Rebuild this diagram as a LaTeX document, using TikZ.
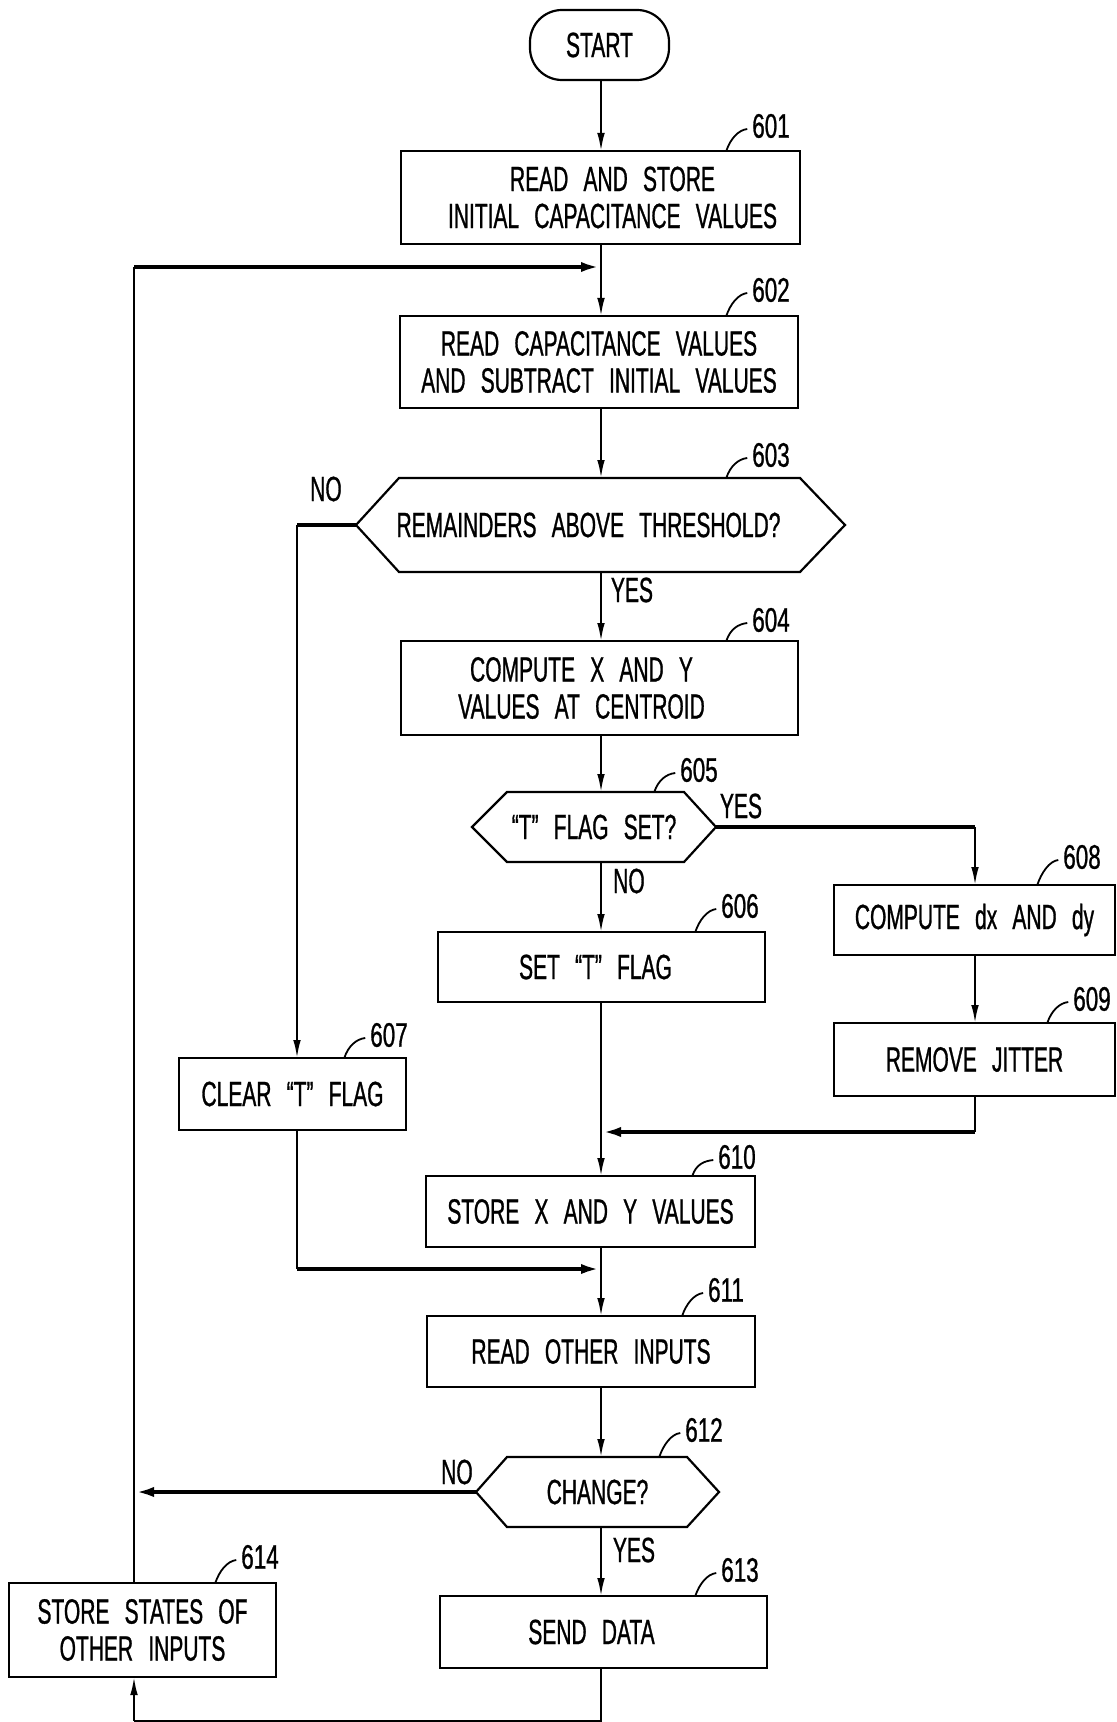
\documentclass[tikz,border=0pt]{standalone}
\usepackage{fontspec}
\usetikzlibrary{arrows.meta,calc}
\newfontfamily\pfont[FakeStretch=0.6,WordSpace=2.6,FakeBold=0.8]{Liberation Sans}
\newfontfamily\nfont[FakeStretch=0.66,FakeBold=0.8]{Liberation Sans}
\newcommand\hexpath[3]{\draw[boxline] (#1.west) -- ($(#1.north west)+(#2,0)$) -- ($(#1.north east)+(-#3,0)$) -- (#1.east) -- ($(#1.south east)+(-#3,0)$) -- ($(#1.south west)+(#2,0)$) -- cycle;}
\newcommand\refnum[4]{% node name, box name, position, number
  \node[numtxt] (#1) at #3 {#4};
  \draw[leaderline] ($(#1.west |- #2.north)+(-26,0)$) .. controls +(4,-12) and +(-9,1) .. ($(#1.west)+(-5,3)$);}
\begin{document}
\begin{tikzpicture}[x=0.5pt,y=-0.5pt,
  every node/.style={inner sep=0pt, outer sep=0pt},
  txt/.style={font={\pfont\fontsize{17.5}{18.5}\selectfont}, align=center},
  numtxt/.style={font={\nfont\fontsize{17}{17}\selectfont}},
  boxline/.style={line width=1.1pt},
  sz/.style 2 args={minimum width=#1*0.5pt, minimum height=#2*0.5pt},
  box/.style 2 args={draw, line width=1.1pt, sz={#1}{#2}, txt},
  hexnode/.style 2 args={sz={#1}{#2}, txt},
  inside/.style 2 args={label={[txt,xshift=#1]center:{#2}}},
  flow/.style={line width=1pt},
  heavy/.style={line width=2.2pt},
  arr/.style={-{Latex[length=9pt,width=3.8pt]}},
  harr/.style={-{Latex[length=10pt,width=5pt]}},
  leaderline/.style={line width=0.9pt}]
\fill[white] (0,0) rectangle (1117,1722);
\useasboundingbox (0,0) rectangle (1117,1722);

% guide coordinates
\coordinate (sp) at (601,0);
\coordinate (lp) at (134,267);
\coordinate (nx) at (297,0);
\coordinate (rx) at (975,0);
\coordinate (j1) at (601,1132);
\coordinate (j2) at (601,1269);
\coordinate (bt) at (0,1721);

% nodes
\node[box={139}{70}, rounded corners=16pt] (start) at (599.5,45) {START};
\node[box={399}{93}, inside={6pt}{READ AND STORE\\INITIAL CAPACITANCE VALUES}] (n601) at (600.5,197.5) {};
\node[box={398}{92}] (n602) at (599,362) {READ CAPACITANCE VALUES\\AND SUBTRACT INITIAL VALUES};
\node[hexnode={489}{94}, inside={-6pt}{REMAINDERS ABOVE THRESHOLD?}] (h603) at (600.5,525) {};
\hexpath{h603}{43}{45}
\node[box={397}{94}, inside={-9pt}{COMPUTE X AND Y\\VALUES AT CENTROID}] (n604) at (599.5,688) {};
\node[hexnode={244}{70}] (h605) at (594,827) {“T” FLAG SET?};
\hexpath{h605}{35}{32}
\node[box={327}{70}, inside={-3pt}{SET “T” FLAG}] (n606) at (601.5,967) {};
\node[box={227}{72}] (n607) at (292.5,1094) {CLEAR “T” FLAG};
\node[box={281}{70}] (n608) at (974.5,920) {COMPUTE dx AND dy};
\node[box={281}{73}] (n609) at (974.5,1059.5) {REMOVE JITTER};
\node[box={329}{71}] (n610) at (590.5,1211.5) {STORE X AND Y VALUES};
\node[box={328}{71}] (n611) at (591,1351.5) {READ OTHER INPUTS};
\node[hexnode={243}{70}] (h612) at (597.5,1492) {CHANGE?};
\hexpath{h612}{31}{32}
\node[box={327}{72}, inside={-6pt}{SEND DATA}] (n613) at (603.5,1632) {};
\node[box={267}{94}] (n614) at (142.5,1630) {STORE STATES OF\\OTHER INPUTS};

% branch labels
\node[txt] (no603) at (326,489) {NO};
\node[txt] (yes603) at (632,590) {YES};
\node[txt] (yes605) at (741,806) {YES};
\node[txt] (no605) at (629,881) {NO};
\node[txt] (no612) at (457,1472) {NO};
\node[txt] (yes612) at (634,1550) {YES};

% reference numbers
\refnum{l601}{n601}{(771,126)}{601}
\refnum{l602}{n602}{(771,290)}{602}
\refnum{l603}{h603}{(771,455)}{603}
\refnum{l604}{n604}{(771,620)}{604}
\refnum{l605}{h605}{(699,770)}{605}
\refnum{l606}{n606}{(740,906)}{606}
\refnum{l607}{n607}{(389,1035)}{607}
\refnum{l608}{n608}{(1082,857)}{608}
\refnum{l609}{n609}{(1092,999)}{609}
\refnum{l610}{n610}{(737,1157)}{610}
\refnum{l611}{n611}{(726,1290)}{611}
\refnum{l612}{h612}{(704,1430)}{612}
\refnum{l613}{n613}{(740,1570)}{613}
\refnum{l614}{n614}{(260,1557)}{614}

% connectors
\draw[flow,arr] (start.south -| sp) -- (n601.north -| sp);
\draw[flow,arr] (n601.south -| sp) -- (n602.north -| sp);
\draw[flow] (n614.north -| lp) -- (lp);
\draw[heavy,harr] (lp) -- (lp -| sp);
\draw[flow,arr] (n602.south -| sp) -- (h603.north -| sp);
\draw[heavy] (h603.west) -- (h603.west -| nx);
\draw[flow,arr] (h603.west -| nx) -- (n607.north -| nx);
\draw[flow,arr] (h603.south -| sp) -- (n604.north -| sp);
\draw[flow,arr] (n604.south -| sp) -- (h605.north -| sp);
\draw[heavy] (h605.east) -- (h605.east -| rx);
\draw[flow,arr] (h605.east -| rx) -- (n608.north -| rx);
\draw[flow,arr] (h605.south -| sp) -- (n606.north -| sp);
\draw[flow,arr] (n608.south -| rx) -- (n609.north -| rx);
\draw[flow,arr] (n606.south -| sp) -- (n610.north -| sp);
\draw[flow] (n609.south -| rx) -- (rx |- j1);
\draw[heavy,harr] (rx |- j1) -- (j1);
\draw[flow] (n607.south -| nx) -- (nx |- j2);
\draw[heavy,harr] (nx |- j2) -- (j2);
\draw[flow,arr] (n610.south -| sp) -- (n611.north -| sp);
\draw[flow,arr] (n611.south -| sp) -- (h612.north -| sp);
\draw[heavy,harr] (h612.west) -- (h612.west -| lp);
\draw[flow,arr] (h612.south -| sp) -- (n613.north -| sp);
\draw[flow] (n613.south -| sp) -- (sp |- bt) -- (bt -| lp);
\draw[flow,arr] (bt -| lp) -- (n614.south -| lp);
\end{tikzpicture}
\end{document}
